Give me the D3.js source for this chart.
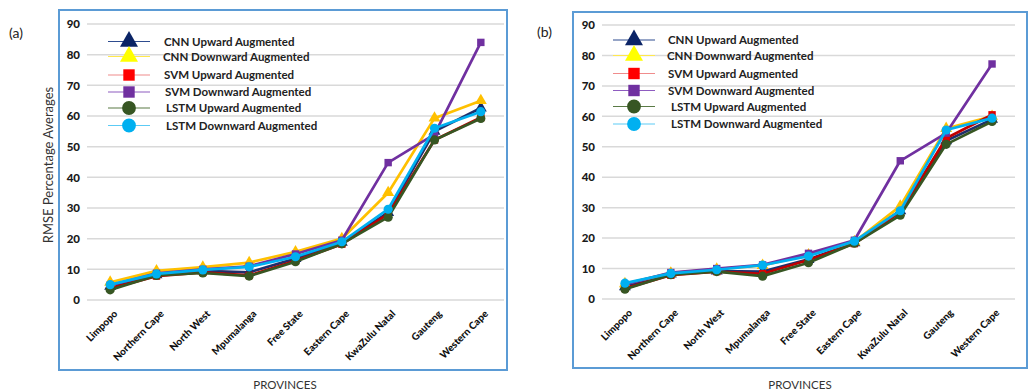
<!DOCTYPE html>
<html>
<head>
<meta charset="utf-8">
<script src="https://cdn.jsdelivr.net/npm/d3@7"></script>
<style>
  html, body { margin: 0; padding: 0; background: #fff; }
  svg { display: block; font-family: Lato, "Liberation Sans", sans-serif; }
</style>
</head>
<body>
<svg id="chart" width="1032" height="392"></svg>
<script>
// Provinces on the x axis
const provinces = ["Limpopo", "Northern Cape", "North West", "Mpumalanga", "Free State",
  "Eastern Cape", "KwaZulu Natal", "Gauteng", "Western Cape"];
const yTicks = [0, 10, 20, 30, 40, 50, 60, 70, 80, 90];

// Series names
const seriesNames = ["CNN Upward Augmented", "CNN Downward Augmented", "SVM Upward Augmented",
  "SVM Downward Augmented", "LSTM Upward Augmented", "LSTM Downward Augmented"];

// Panel (a) RMSE percentage averages
const cnnUpA    = [4.5, 8.2, 9.5, 9.0, 13.5, 18.8, 28.5, 55.0, 62.6];
const cnnDownA  = [5.8, 9.5, 10.7, 12.2, 15.7, 20.0, 35.0, 59.3, 65.0];
const svmUpA    = [3.8, 7.8, 9.0, 8.0, 12.8, 18.2, 28.0, 52.2, 59.5];
const svmDownA  = [4.8, 8.7, 10.0, 11.0, 15.0, 19.5, 44.8, 54.0, 84.0];
const lstmUpA   = [3.3, 8.0, 8.8, 7.8, 12.5, 18.3, 27.0, 52.2, 59.2];
const lstmDownA = [5.0, 8.5, 9.8, 10.8, 14.1, 19.0, 29.6, 56.0, 61.4];

// Panel (b) RMSE percentage averages
const cnnUpB    = [4.0, 8.2, 9.2, 9.0, 13.0, 18.5, 29.0, 52.0, 59.0];
const cnnDownB  = [5.0, 8.5, 9.8, 11.0, 14.5, 18.8, 30.5, 56.0, 60.0];
const svmUpB    = [3.5, 7.8, 9.0, 8.3, 12.8, 18.2, 28.5, 52.8, 60.5];
const svmDownB  = [4.8, 8.7, 10.0, 11.2, 15.0, 19.3, 45.4, 54.5, 77.2];
const lstmUpB   = [3.2, 8.0, 9.0, 7.5, 11.9, 18.3, 27.5, 50.8, 58.3];
const lstmDownB = [5.2, 8.4, 9.6, 11.1, 14.1, 19.0, 29.0, 55.5, 59.4];

// Visual style per series
const styles = [
  { shape: d3.symbolTriangle, line: "#1F2F6B", fill: "#14296A", legLine: "#2E4C8F", legFill: "#0B2466" },
  { shape: d3.symbolTriangle, line: "#FFC000", fill: "#FFC000", legLine: "#FFE84D", legFill: "#FFFF00" },
  { shape: d3.symbolSquare,   line: "#C00000", fill: "#E00000", legLine: "#F08C8C", legFill: "#FF0000" },
  { shape: d3.symbolSquare,   line: "#7030A0", fill: "#7030A0", legLine: "#8E5CC0", legFill: "#7030A0" },
  { shape: d3.symbolCircle,   line: "#375623", fill: "#375623", legLine: "#5A7A45", legFill: "#375623" },
  { shape: d3.symbolCircle,   line: "#00B0F0", fill: "#00B0F0", legLine: "#5CCBF5", legFill: "#00B0F0" }
];

const svg = d3.select("#chart");

function drawPanel(cfg) {
  const g = svg.append("g");

  // outer frame
  g.append("rect")
    .attr("x", cfg.frame[0]).attr("y", cfg.frame[1])
    .attr("width", cfg.frame[2] - cfg.frame[0]).attr("height", cfg.frame[3] - cfg.frame[1])
    .attr("fill", "none").attr("stroke", "#5B9BD5").attr("stroke-width", 2);

  const x = d3.scalePoint().domain(provinces).range([cfg.left, cfg.right]).padding(0.5);
  const y = d3.scaleLinear().domain([0, 90]).range([cfg.bottom, cfg.top]);

  // horizontal gridlines
  g.append("g").selectAll("line").data(yTicks).join("line")
    .attr("x1", cfg.left).attr("x2", cfg.right)
    .attr("y1", d => y(d)).attr("y2", d => y(d))
    .attr("stroke", "#D9D9D9").attr("stroke-width", 1.5);

  // y axis labels
  const yAxis = g.append("g").attr("transform", `translate(${cfg.left - 7},0)`)
    .call(d3.axisLeft(y).tickValues(yTicks).tickSize(0).tickPadding(0));
  yAxis.select(".domain").remove();
  yAxis.selectAll("text")
    .attr("font-family", "Lato, sans-serif").attr("font-weight", 900)
    .attr("font-size", 11.5).attr("fill", "#1a1a1a");

  // x axis labels, rotated
  const xAxis = g.append("g").attr("transform", `translate(0,${cfg.bottom})`)
    .call(d3.axisBottom(x).tickSize(0).tickPadding(0));
  xAxis.select(".domain").remove();
  xAxis.selectAll("text")
    .attr("font-family", "Lato, sans-serif").attr("font-weight", 900)
    .attr("font-size", 10).attr("fill", "#111")
    .attr("text-anchor", "end")
    .attr("dy", "0.35em").attr("y", 0)
    .attr("transform", "translate(5,12) rotate(-45)");

  // series lines and markers
  const line = d3.line().x((d, i) => x(provinces[i])).y(d => y(d));
  cfg.series.forEach((vals, si) => {
    const st = styles[si];
    g.append("path").datum(vals)
      .attr("d", line).attr("fill", "none")
      .attr("stroke", st.line).attr("stroke-width", 2.7).attr("stroke-linejoin", "round");
    const size = st.shape === d3.symbolCircle ? 66 : (st.shape === d3.symbolSquare ? 55 : 62);
    g.append("g").selectAll("path").data(vals).join("path")
      .attr("d", d3.symbol().type(st.shape).size(size))
      .attr("transform", (d, i) => `translate(${x(provinces[i])},${y(d)})`)
      .attr("fill", st.fill);
  });

  // legend
  const leg = g.append("g");
  seriesNames.forEach((name, si) => {
    const st = styles[si];
    const ly = cfg.legendRows[si];
    leg.append("line")
      .attr("x1", cfg.legendLine[0]).attr("x2", cfg.legendLine[1])
      .attr("y1", ly).attr("y2", ly)
      .attr("stroke", st.legLine).attr("stroke-width", 1.2);
    const size = st.shape === d3.symbolCircle ? 150 : (st.shape === d3.symbolSquare ? 130 : 140);
    leg.append("path")
      .attr("d", d3.symbol().type(st.shape).size(size))
      .attr("transform", `translate(${(cfg.legendLine[0] + cfg.legendLine[1]) / 2},${ly})`)
      .attr("fill", st.legFill);
    leg.append("text")
      .attr("x", cfg.legendText + (cfg.legendShift[si] || 0)).attr("y", ly)
      .attr("dy", "0.35em")
      .attr("font-family", "Lato, sans-serif").attr("font-weight", "bold")
      .attr("font-size", 11.5).attr("fill", "#222")
      .text(name);
  });

  // x axis title
  g.append("text")
    .attr("x", cfg.titleX).attr("y", 385).attr("dy", "0.35em")
    .attr("text-anchor", "middle")
    .attr("font-family", "Lato, sans-serif").attr("font-size", 11.5).attr("fill", "#333")
    .text("PROVINCES");

  // panel letter
  svg.append("text")
    .attr("x", cfg.letter[0]).attr("y", cfg.letter[1]).attr("dy", "0.35em")
    .attr("font-family", "Lato, sans-serif").attr("font-size", 14).attr("fill", "#222")
    .text(cfg.letterText);

  return { x, y };
}

drawPanel({
  frame: [59, 10, 507, 370],
  left: 87, right: 504, top: 24, bottom: 300,
  series: [cnnUpA, cnnDownA, svmUpA, svmDownA, lstmUpA, lstmDownA],
  legendRows: [41.5, 56.5, 75, 92, 108, 125.5],
  legendLine: [108, 150],
  legendText: 163,
  legendShift: [1, 0, 1, 2, 3, 3],
  titleX: 285,
  letter: [9, 33], letterText: "(a)"
});

drawPanel({
  frame: [573, 12, 1027, 368],
  left: 602, right: 1015, top: 25, bottom: 299,
  series: [cnnUpB, cnnDownB, svmUpB, svmDownB, lstmUpB, lstmDownB],
  legendRows: [40, 55.5, 73.5, 90.5, 106.5, 124],
  legendLine: [613, 655],
  legendText: 668,
  legendShift: [0, -1, 0, 0, 3, 3],
  titleX: 800,
  letter: [537, 32], letterText: "(b)"
});

// y axis title, panel (a) only
svg.append("text")
  .attr("transform", "translate(48,165) rotate(-90)")
  .attr("text-anchor", "middle").attr("dy", "0.35em")
  .attr("font-family", "Lato, sans-serif").attr("font-size", 13).attr("fill", "#333")
  .text("RMSE Percentage Averages");
</script>
</body>
</html>
